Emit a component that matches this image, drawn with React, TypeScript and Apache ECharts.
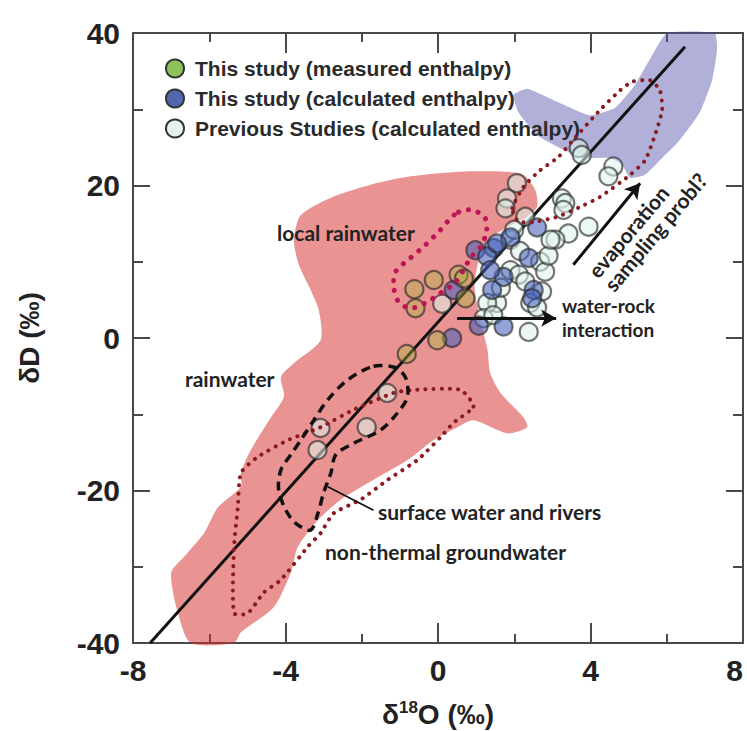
import React, { useEffect, useRef } from "react";
import * as echarts from "echarts";

// ---- data (δ18O, δD in ‰) ----
const measured: number[][] = [
  [-0.62, 6.4], [-0.11, 7.6], [-0.59, 3.9], [0.54, 8.3], [0.68, 7.8],
  [0.72, 5.2], [-0.02, -0.3], [-0.82, -2.1],
];
const calculated: number[][] = [
  [0.41, 6.3], [0.98, 11.5], [0.37, 0.0], [1.07, 1.6], [1.46, 11.8],
  [1.29, 10.7], [2.6, 14.5], [2.38, 10.5], [1.72, 8.0], [2.51, 6.3],
  [2.47, 5.2], [1.42, 6.3], [1.72, 1.5], [1.9, 13.2], [1.55, 12.4], [1.37, 8.9],
];
const previous: number[][] = [
  [3.69, 24.9], [3.77, 24.0], [4.6, 22.5], [4.47, 21.2], [2.07, 20.3],
  [1.81, 18.3], [1.77, 17.0], [3.25, 18.3], [3.34, 17.7], [3.29, 16.8],
  [3.95, 14.6], [3.42, 13.7], [3.08, 12.9], [2.29, 15.9], [2.68, 10.0],
  [2.81, 8.7], [1.9, 8.9], [2.12, 8.3], [2.29, 7.4], [2.73, 6.1],
  [2.42, 4.6], [1.55, 4.6], [1.29, 4.6], [2.38, 0.8], [0.11, 4.5],
  [-1.33, -7.2], [-1.87, -11.7], [-3.08, -11.8], [-3.16, -14.7], [1.9, 12.9],
  [2.0, 14.2], [1.2, 2.6], [2.9, 10.8], [1.65, 6.6], [2.15, 11.4],
  [2.95, 12.9], [1.45, 3.0], [2.6, 4.0],
];
const regressionLine: number[][] = [[-7.55, -40], [6.48, 38.2]];

const rainwaterRegion: number[][] = [
  [-7.0, -30.8], [-6.66, -28.7], [-6.14, -25.6], [-5.77, -22.2], [-5.17, -19.5],
  [-5.17, -17.7], [-4.91, -14.7], [-4.38, -10.4], [-4.04, -7.7], [-4.12, -5.1],
  [-3.78, -3.3], [-3.08, -0.3], [-3.13, 3.7], [-3.34, 6.3], [-3.65, 9.6],
  [-3.78, 12.9], [-3.6, 16.1], [-2.81, 18.4], [-1.77, 20.1], [-0.72, 21.2],
  [0.59, 21.8], [1.77, 21.8], [2.24, 21.4], [2.55, 19.4], [2.6, 17.2],
  [2.34, 15.9], [1.77, 14.4], [1.32, 12.9], [1.11, 11.1], [0.96, 6.7],
  [1.11, 2.4], [1.3, -1.6], [1.37, -4.6], [1.64, -7.2], [2.24, -10.4],
  [2.34, -11.7], [1.82, -12.5], [0.93, -10.8], [0.51, -11.7], [-0.12, -13.4],
  [-0.8, -16.0], [-1.69, -18.6], [-2.55, -21.2], [-3.15, -23.9], [-3.68, -27.4],
  [-3.86, -30.8], [-4.31, -35.3], [-5.17, -38.6], [-5.35, -40], [-6.48, -40],
  [-6.82, -36.1],
];
const evaporationRegion: number[][] = [
  [1.98, 31.9], [2.34, 32.7], [3.21, 30.8], [3.99, 29.2], [4.65, 30.2],
  [5.17, 33.2], [5.62, 37.1], [6.01, 40], [7.26, 40], [7.32, 37.8],
  [7.19, 33.8], [6.87, 29.6], [6.35, 26.0], [5.82, 23.3], [5.43, 21.4],
  [5.04, 21.0], [4.83, 22.7], [4.52, 23.6], [3.86, 23.6], [3.21, 24.9],
  [2.6, 26.6], [2.11, 29.6],
];
const localRainwaterLoop: number[][] = [
  [0.54, 16.5], [0.9, 16.8], [1.24, 15.7], [1.27, 13.9], [1.11, 11.9],
  [0.85, 10.5], [0.67, 8.9], [0.46, 7.3], [0.07, 5.9], [-0.33, 4.6],
  [-0.72, 3.9], [-1.03, 4.7], [-1.16, 6.6], [-1.11, 8.7], [-0.72, 10.5],
  [-0.33, 12.2], [0.07, 14.2], [0.33, 15.7],
];
const surfaceWaterLoop: number[][] = [
  [-1.69, -3.7], [-1.11, -3.9], [-0.85, -5.2], [-0.8, -7.7], [-1.06, -9.8],
  [-1.51, -12.1], [-2.21, -13.8], [-2.68, -15.3], [-2.81, -17.7], [-3.0, -20.3],
  [-3.15, -23.0], [-3.34, -25.2], [-3.73, -24.3], [-3.99, -22.6], [-4.18, -19.9],
  [-4.12, -17.3], [-3.86, -15.3], [-3.6, -13.4], [-3.26, -10.8], [-2.89, -8.1],
  [-2.37, -5.5],
];
const groundwaterLoopLower: number[][] = [
  [0.93, -9.0], [0.59, -6.8], [-0.64, -6.8], [-1.16, -7.2], [-2.21, -9.4],
  [-3.08, -11.7], [-3.94, -13.4], [-4.73, -15.6], [-5.17, -17.7], [-5.25, -22.2],
  [-5.35, -27.4], [-5.35, -36.1], [-4.99, -36.1], [-4.57, -33.4], [-4.12, -31.7],
  [-3.42, -27.4], [-3.08, -25.6], [-2.74, -23.0], [-2.03, -21.2], [-1.32, -18.6],
  [-0.54, -16.0], [0.07, -13.0], [0.41, -11.1],
];
const groundwaterLoopUpper: number[][] = [
  [1.95, 17.0], [2.24, 19.8], [2.68, 22.0], [3.15, 23.7], [3.55, 26.0],
  [4.25, 29.9], [4.78, 32.5], [5.09, 33.6], [5.56, 33.8], [5.82, 32.5],
  [5.88, 29.9], [5.69, 26.6], [5.43, 23.3], [5.04, 21.4], [4.25, 18.5],
  [3.73, 17.2], [3.13, 15.9], [2.5, 15.2], [2.1, 15.3],
];
const waterRockArrow: number[][] = [[0.5, 2.6], [3.1, 2.6]];
const evaporationArrow: number[][] = [[3.55, 9.6], [5.3, 20.3]];
const surfaceLeader: number[][] = [[-2.89, -19.5], [-1.69, -22.6]];

const X_MIN = -8, X_MAX = 8, X_INTERVAL = 4;
const Y_MIN = -40, Y_MAX = 40, Y_INTERVAL = 20;

const seriesNames = [
  "This study (measured enthalpy)",
  "This study (calculated enthalpy)",
  "Previous Studies (calculated enthalpy)",
];

const FONT = "'Liberation Sans', Arial, sans-serif";
const ANNOT = "bold 21px Lato, 'Liberation Sans', sans-serif";
const ANNOT_SMALL = "bold 19px Lato, 'Liberation Sans', sans-serif";

function region(name: string, pts: number[][], style: any, z: number, smooth: number) {
  return {
    type: "custom",
    name,
    silent: true,
    z,
    clip: false,
    data: [[0, 0]],
    renderItem: (_p: any, api: any) => ({
      type: "polygon",
      shape: { points: pts.map((p) => api.coord(p)), smooth },
      style,
    }),
  };
}

export default function App() {
  const ref = useRef<HTMLDivElement>(null);
  useEffect(() => {
    if (!ref.current) return;
    const chart = echarts.init(ref.current, undefined, { renderer: "svg" });
    const axisColor = "#4a4a4a";
    const baseX = {
      type: "value",
      min: X_MIN,
      max: X_MAX,
      interval: X_INTERVAL,
      splitLine: { show: false },
      axisLine: { show: true, onZero: false, lineStyle: { color: axisColor, width: 2 } },
      axisTick: { show: true, inside: true, length: 20, lineStyle: { color: axisColor, width: 2 } },
      minorTick: { show: true, splitNumber: 2, length: 9, lineStyle: { color: axisColor, width: 2 } },
    };
    const baseY = {
      type: "value",
      min: Y_MIN,
      max: Y_MAX,
      interval: Y_INTERVAL,
      splitLine: { show: false },
      axisLine: { show: true, onZero: false, lineStyle: { color: axisColor, width: 2 } },
      axisTick: { show: true, inside: true, length: 17, lineStyle: { color: axisColor, width: 2 } },
      minorTick: { show: true, splitNumber: 2, length: 10, lineStyle: { color: axisColor, width: 2 } },
    };
    const scatterStyle = (fill: string) => ({
      color: fill,
      borderColor: "rgba(40,40,40,0.8)",
      borderWidth: 2.2,
    });
    chart.setOption({
      animation: false,
      backgroundColor: "#ffffff",
      grid: { left: 133, right: 4, top: 33, bottom: 88, containLabel: false, outerBoundsMode: "none" },
      xAxis: [
        {
          ...baseX,
          position: "bottom",
          axisLabel: { fontSize: 30, fontWeight: "bold", fontFamily: FONT, color: "#222", margin: 12, alignMaxLabel: "right" },
          name: "{a|δ}{s|18}{a|O (‰)}",
          nameLocation: "middle",
          nameGap: 56,
          nameTextStyle: {
            color: "#222",
            rich: {
              a: { fontSize: 28, fontWeight: "bold", fontFamily: FONT, color: "#222", lineHeight: 30 },
              s: { fontSize: 17, fontWeight: "bold", fontFamily: FONT, color: "#222", verticalAlign: "top", lineHeight: 30 },
            },
          },
        },
        { ...baseX, position: "top", axisLabel: { show: false } },
      ],
      yAxis: [
        {
          ...baseY,
          position: "left",
          axisLabel: { fontSize: 30, fontWeight: "bold", fontFamily: FONT, color: "#222", margin: 13 },
          name: "δD (‰)",
          nameLocation: "middle",
          nameRotate: 90,
          nameGap: 90,
          nameTextStyle: { fontSize: 28, fontWeight: "bold", fontFamily: FONT, color: "#222" },
        },
        { ...baseY, position: "right", axisLabel: { show: false } },
      ],
      legend: {
        left: 160,
        top: 53,
        orient: "vertical",
        icon: "circle",
        itemWidth: 18,
        itemHeight: 18,
        itemGap: 9,
        selectedMode: false,
        textStyle: { fontSize: 21, fontWeight: "bold", fontFamily: FONT, color: "#2a2a2a", padding: [0, 0, 0, 6] },
        data: [
          { name: seriesNames[0], itemStyle: { color: "#8cc35a", borderColor: "#333", borderWidth: 2, opacity: 1 } },
          { name: seriesNames[1], itemStyle: { color: "#5367b0", borderColor: "#333", borderWidth: 2, opacity: 1 } },
          { name: seriesNames[2], itemStyle: { color: "#e2f3ee", borderColor: "#333", borderWidth: 2, opacity: 1 } },
        ],
      },
      series: [
        region("rainwater", rainwaterRegion, { fill: "rgba(214,40,40,0.5)", stroke: "none" }, 1, 0.25),
        region("evaporation", evaporationRegion, { fill: "rgba(80,80,170,0.45)", stroke: "none" }, 1, 0.15),
        {
          type: "line",
          name: "LMWL",
          data: regressionLine,
          symbol: "none",
          silent: true,
          z: 2,
          lineStyle: { color: "#111", width: 3 },
        },
        {
          type: "scatter",
          name: seriesNames[2],
          data: previous,
          symbolSize: 18,
          z: 3,
          itemStyle: scatterStyle("rgba(222,242,236,0.7)"),
        },
        {
          type: "scatter",
          name: seriesNames[1],
          data: calculated,
          symbolSize: 18,
          z: 3,
          itemStyle: scatterStyle("rgba(70,95,185,0.72)"),
        },
        {
          type: "scatter",
          name: seriesNames[0],
          data: measured,
          symbolSize: 18,
          z: 3,
          itemStyle: scatterStyle("rgba(170,185,60,0.5)"),
        },
        region("local rainwater", localRainwaterLoop,
          { fill: "none", stroke: "#bd1458", lineWidth: 5, lineDash: [0.1, 10], lineCap: "round" }, 4, 0.3),
        region("groundwater-lower", groundwaterLoopLower,
          { fill: "none", stroke: "#8a1b20", lineWidth: 4, lineDash: [0.1, 8], lineCap: "round" }, 4, 0.2),
        region("groundwater-upper", groundwaterLoopUpper,
          { fill: "none", stroke: "#8a1b20", lineWidth: 4, lineDash: [0.1, 8], lineCap: "round" }, 4, 0.2),
        region("surface water", surfaceWaterLoop,
          { fill: "none", stroke: "#111", lineWidth: 3.5, lineDash: [9, 6], lineCap: "butt" }, 4, 0.3),
        {
          type: "line",
          name: "annotations",
          data: [],
          silent: true,
          z: 6,
          markLine: {
            silent: true,
            animation: false,
            symbol: ["none", "arrow"],
            symbolSize: [13, 15],
            label: { show: false },
            lineStyle: { color: "#111", width: 3, type: "solid" },
            data: [
              [{ coord: waterRockArrow[0] }, { coord: waterRockArrow[1] }],
              [{ coord: evaporationArrow[0] }, { coord: evaporationArrow[1] }],
              [
                { coord: surfaceLeader[0], symbol: "none", lineStyle: { width: 1.6 } },
                { coord: surfaceLeader[1], symbol: "none" },
              ],
            ],
          },
        },
      ],
      graphic: [
        { type: "text", x: 277, y: 232, z: 50, style: { text: "local rainwater", font: ANNOT, fill: "#222", textVerticalAlign: "middle" } },
        { type: "text", x: 185, y: 378, z: 50, style: { text: "rainwater", font: ANNOT, fill: "#222", textVerticalAlign: "middle" } },
        { type: "text", x: 378, y: 511, z: 50, style: { text: "surface water and rivers", font: ANNOT, fill: "#222", textVerticalAlign: "middle" } },
        { type: "text", x: 325, y: 551, z: 50, style: { text: "non-thermal groundwater", font: ANNOT, fill: "#222", textVerticalAlign: "middle" } },
        { type: "text", x: 562, y: 305, z: 50, style: { text: "water-rock", font: ANNOT_SMALL, fill: "#222", textVerticalAlign: "middle" } },
        { type: "text", x: 562, y: 329, z: 50, style: { text: "interaction", font: ANNOT_SMALL, fill: "#222", textVerticalAlign: "middle" } },
        {
          type: "text",
          x: 600,
          y: 281,
          z: 50,
          rotation: (50 * Math.PI) / 180,
          style: { text: "evaporation\nsampling probl?", font: ANNOT, fill: "#222", textAlign: "left", textVerticalAlign: "middle", lineHeight: 21 },
        },
      ],
    });
    return () => chart.dispose();
  }, []);
  return (
    <div
      ref={ref}
      style={{ position: "fixed", left: 0, top: 0, width: 747, height: 731, background: "#fff" }}
    />
  );
}
